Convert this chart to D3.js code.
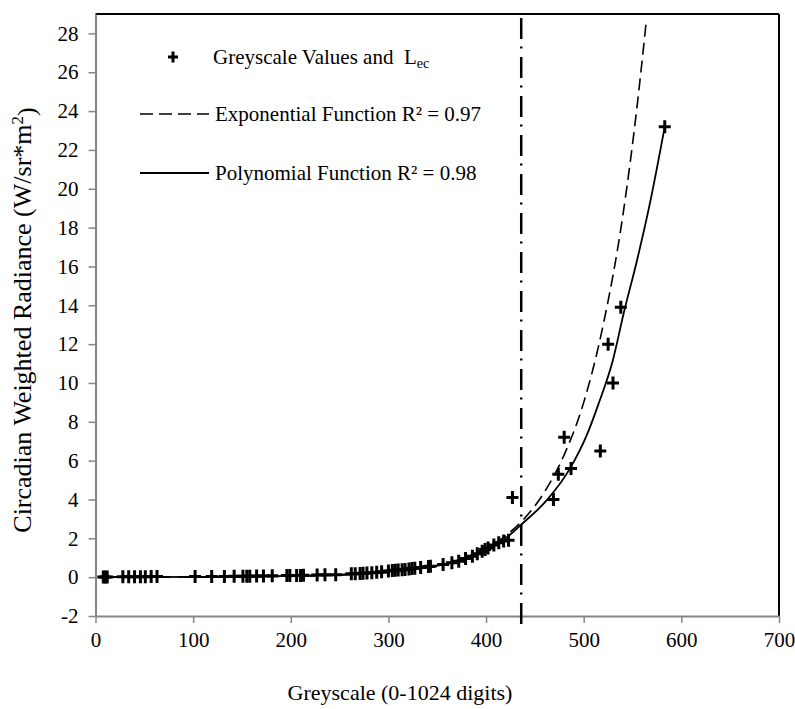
<!DOCTYPE html>
<html>
<head>
<meta charset="utf-8">
<script src="https://cdn.jsdelivr.net/npm/d3@7"></script>
<style>
  body { margin: 0; background: #fff; }
  svg text { font-family: "Liberation Serif", "Times New Roman", serif; fill: #000; }
</style>
</head>
<body>
<div id="chart"></div>
<script>
// data
const greyscale = [8, 10, 12, 28, 34, 40, 46, 51, 57, 63, 102, 119, 132, 142, 151, 155, 158, 165, 172, 181,
  196, 199, 206, 210, 213, 227, 235, 246, 262, 266, 271, 274, 278, 283, 288, 293, 300, 304, 307, 310,
  314, 317, 321, 324, 327, 333, 341, 343, 356, 365, 372, 379, 386, 391, 396, 399, 402, 408, 413, 418, 423,
  427, 469, 474, 480, 487, 517, 525, 530, 538, 583];
const radiance = [0.01, 0.01, 0.01, 0.02, 0.02, 0.02, 0.02, 0.02, 0.03, 0.03, 0.03, 0.04, 0.04, 0.05, 0.05, 0.05, 0.05, 0.06, 0.06, 0.07,
  0.08, 0.08, 0.09, 0.09, 0.1, 0.11, 0.12, 0.13, 0.17, 0.18, 0.19, 0.2, 0.21, 0.23, 0.25, 0.28, 0.32, 0.34, 0.35, 0.37,
  0.38, 0.4, 0.42, 0.44, 0.46, 0.5, 0.55, 0.56, 0.65, 0.74, 0.82, 0.96, 1.08, 1.2, 1.34, 1.43, 1.5, 1.65, 1.77, 1.86, 1.9,
  4.1, 4.0, 5.3, 7.2, 5.6, 6.5, 12.0, 10.0, 13.9, 23.2];

// trendlines
const expX = [10, 50, 100, 150, 200, 250, 300, 340, 370, 400, 420, 437, 460, 480, 500, 520, 540, 555, 564];
const expY = [0.001, 0.003, 0.007, 0.016, 0.04, 0.1, 0.24, 0.5, 0.86, 1.49, 2.13, 2.9, 4.4, 6.3, 9.0, 13.0, 18.6, 24.4, 28.6];
const polyX = [10, 50, 100, 150, 200, 250, 300, 340, 370, 400, 420, 437, 462, 486, 503, 515, 530, 541, 555, 568, 583];
const polyY = [0.0, 0.0, 0.01, 0.03, 0.07, 0.13, 0.28, 0.5, 0.83, 1.42, 2.0, 2.75, 3.95, 5.6, 7.3, 8.9, 11.2, 13.6, 16.4, 19.3, 23.2];

const thresholdX = 436;

const xTicks = [0, 100, 200, 300, 400, 500, 600, 700];
const yTicks = [-2, 0, 2, 4, 6, 8, 10, 12, 14, 16, 18, 20, 22, 24, 26, 28];

const legendLabels = ["Greyscale Values and  L", "Exponential Function R² = 0.97", "Polynomial Function R² = 0.98"];

// 1: layout
const W = 795, H = 709;
const margin = { top: 14, right: 16, bottom: 93, left: 95.5 };
const width = W - margin.left - margin.right;
const height = H - margin.top - margin.bottom;
const serif = "'Liberation Serif', 'Times New Roman', serif";

const svg = d3.select("#chart").append("svg")
  .attr("width", W)
  .attr("height", H);

const g = svg.append("g")
  .attr("transform", `translate(${margin.left},${margin.top})`);

// 2: scales
const x = d3.scaleLinear().domain([0, 700]).range([0, width]);
const y = d3.scaleLinear().domain([-2, 29]).range([height, 0]);

// 3: frame (black top / right, grey axes)
g.append("line").attr("x1", 0).attr("x2", width).attr("y1", 0).attr("y2", 0)
  .attr("stroke", "#000").attr("stroke-width", 2);
g.append("line").attr("x1", width).attr("x2", width).attr("y1", 0).attr("y2", height)
  .attr("stroke", "#000").attr("stroke-width", 2);

const plain = d => String(d);   // keep hyphen minus like the original

const xAxis = g.append("g")
  .attr("transform", `translate(0,${height})`)
  .call(d3.axisBottom(x).tickValues(xTicks).tickFormat(plain).tickSize(7).tickSizeOuter(0).tickPadding(9));

const yAxis = g.append("g")
  .call(d3.axisLeft(y).tickValues(yTicks).tickFormat(plain).tickSize(7).tickSizeOuter(0).tickPadding(10));

[xAxis, yAxis].forEach(a => {
  a.attr("font-family", serif).attr("font-size", 21);
  a.select(".domain").attr("stroke", "#868686").attr("stroke-width", 2);
  a.selectAll(".tick line").attr("stroke", "#868686").attr("stroke-width", 1.5);
  a.selectAll(".tick text").attr("fill", "#000");
});

// 4: threshold dash-dot line
g.append("line")
  .attr("x1", x(thresholdX)).attr("x2", x(thresholdX))
  .attr("y1", y(28.8)).attr("y2", height + 12)
  .attr("stroke", "#000")
  .attr("stroke-width", 2.5)
  .attr("stroke-dasharray", "21,7.5,2,8.5");

// 5: trendlines
const line = d3.line()
  .x(d => x(d[0]))
  .y(d => y(d[1]))
  .curve(d3.curveMonotoneX);

g.append("path")
  .datum(d3.zip(expX, expY))
  .attr("fill", "none")
  .attr("stroke", "#000")
  .attr("stroke-width", 1.6)
  .attr("stroke-dasharray", "12,6")
  .attr("d", line);

g.append("path")
  .datum(d3.zip(polyX, polyY))
  .attr("fill", "none")
  .attr("stroke", "#000")
  .attr("stroke-width", 1.8)
  .attr("d", line);

// 6: points
const cross = "M-6,0H6M0,-6.5V6.5";
g.selectAll(".pt")
  .data(d3.zip(greyscale, radiance))
  .enter().append("path")
  .attr("class", "pt")
  .attr("transform", d => `translate(${x(d[0])},${y(d[1])})`)
  .attr("d", cross)
  .attr("stroke", "#000")
  .attr("stroke-width", 3)
  .attr("fill", "none");

// 7: legend
const leg = svg.append("g").style("font-size", "21px");
const rowY = [57, 114, 173];

leg.append("path")
  .attr("transform", `translate(173,${rowY[0]})`)
  .attr("d", "M-5,0H5M0,-5.5V5.5")
  .attr("stroke", "#000").attr("stroke-width", 3);

leg.append("line").attr("x1", 140).attr("x2", 209).attr("y1", rowY[1]).attr("y2", rowY[1])
  .attr("stroke", "#000").attr("stroke-width", 1.6).attr("stroke-dasharray", "13,6");
leg.append("line").attr("x1", 140).attr("x2", 209).attr("y1", rowY[2]).attr("y2", rowY[2])
  .attr("stroke", "#000").attr("stroke-width", 1.8);

const t0 = leg.append("text").attr("x", 213).attr("y", rowY[0]).attr("dy", "0.33em")
  .attr("xml:space", "preserve").style("white-space", "pre");
t0.append("tspan").text(legendLabels[0]);
t0.append("tspan").attr("dy", "0.3em").style("font-size", "14px").text("ec");

leg.append("text").attr("x", 215).attr("y", rowY[1]).attr("dy", "0.33em").text(legendLabels[1]);
leg.append("text").attr("x", 215).attr("y", rowY[2]).attr("dy", "0.33em").text(legendLabels[2]);

// 8: axis titles
svg.append("text")
  .attr("x", 400)
  .attr("y", 700)
  .attr("text-anchor", "middle")
  .style("font-size", "22px")
  .text("Greyscale (0-1024 digits)");

const yt = svg.append("text")
  .attr("transform", `translate(31,${margin.top + height / 2 + 5}) rotate(-90)`)
  .attr("text-anchor", "middle")
  .style("font-size", "26px");
yt.append("tspan").text("Circadian Weighted Radiance (W/sr*m");
yt.append("tspan").attr("dy", "-0.45em").style("font-size", "17px").text("2");
yt.append("tspan").attr("dy", "0.45em").text(")");
</script>
</body>
</html>
